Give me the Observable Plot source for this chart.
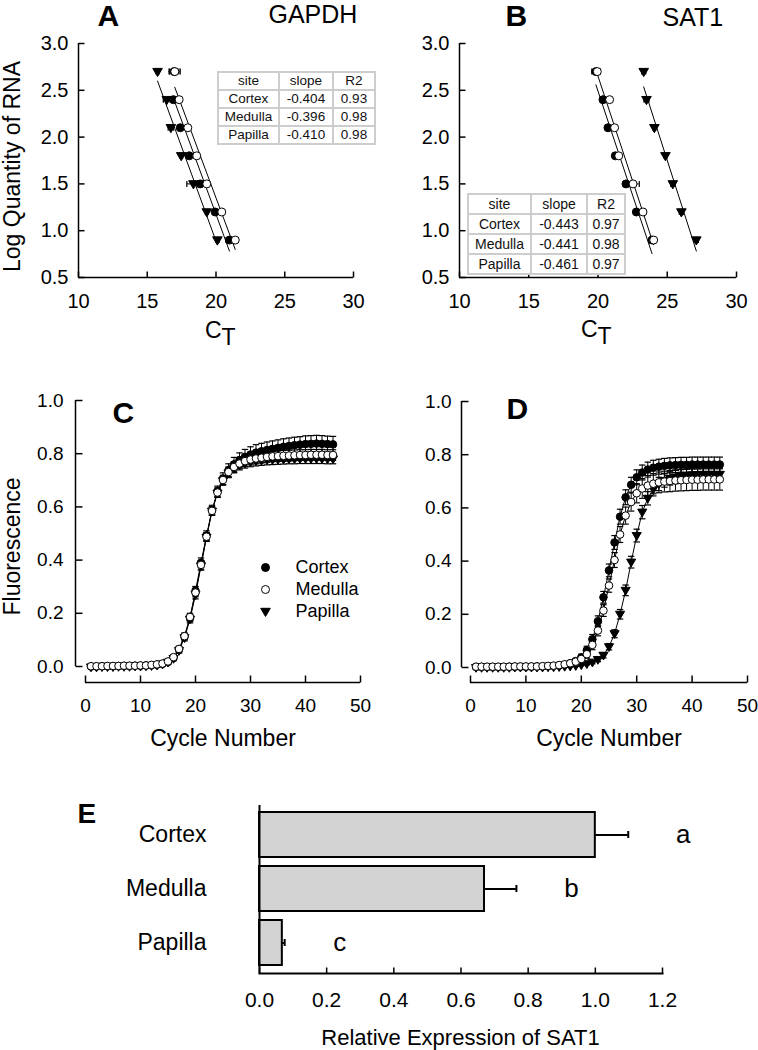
<!DOCTYPE html>
<html><head><meta charset="utf-8">
<script src="https://cdn.jsdelivr.net/npm/d3@7"></script>
<script src="https://cdn.jsdelivr.net/npm/@observablehq/plot@0.6"></script>
<style>
body{margin:0;background:#fff;}
#page{position:relative;width:758px;height:1050px;background:#fff;font-family:"Liberation Sans",Arial,sans-serif;overflow:hidden;}
#page svg{position:absolute;}
table.fit{position:absolute;border-collapse:collapse;background:#fff;color:#111;font-family:"Liberation Sans",Arial,sans-serif;}
table.fit td{border:2px solid #cdcdcd;text-align:center;padding:0;line-height:1;white-space:nowrap;}
</style></head><body><div id="page"></div>
<script>
// ---------------- data ----------------
const sites = ["Cortex", "Medulla", "Papilla"];

// Panels A/B: standard curves (log quantity of RNA vs CT)
const logQuantity = [2.7, 2.4, 2.1, 1.8, 1.5, 1.2, 0.9];
const gapdhCortex    = [16.95, 16.90, 17.40, 18.05, 18.85, 19.94, 20.98];
const gapdhMedulla   = [17.00, 17.32, 17.95, 18.60, 19.33, 20.42, 21.40];
const gapdhPapilla   = [15.75, 16.42, 16.72, 17.47, 18.36, 19.33, 20.10];
const gapdhCortexSE  = [0.35, 0.12, 0.10, 0.10, 0.15, 0.10, 0.25];
const gapdhMedullaSE = [0.40, 0.10, 0.10, 0.10, 0.10, 0.10, 0.15];
const gapdhPapillaSE = [0.10, 0.25, 0.20, 0.10, 0.48, 0.10, 0.12];

const sat1Cortex    = [19.85, 20.36, 20.72, 21.25, 22.02, 22.77, 23.90];
const sat1Medulla   = [19.95, 20.84, 21.20, 21.50, 22.53, 23.25, 24.02];
const sat1Papilla   = [23.30, 23.50, 24.07, 24.87, 25.40, 26.02, 27.10];
const sat1CortexSE  = [0.30, 0.10, 0.10, 0.10, 0.20, 0.10, 0.10];
const sat1MedullaSE = [0.20, 0.10, 0.10, 0.10, 0.45, 0.10, 0.10];
const sat1PapillaSE = [0.15, 0.18, 0.10, 0.10, 0.15, 0.15, 0.15];

const gapdhSlope = ["-0.404", "-0.396", "-0.410"];
const gapdhR2    = ["0.93", "0.98", "0.98"];
const sat1Slope  = ["-0.443", "-0.441", "-0.461"];
const sat1R2     = ["0.97", "0.98", "0.97"];

const ctTicks = [10, 15, 20, 25, 30];
const qTicks = [0.5, 1.0, 1.5, 2.0, 2.5, 3.0];

// Panels C/D: amplification curves, cycles 1..45
const cycles = d3.range(1, 46);
const gapdhAmpCortex = [0.000,0.000,0.001,0.001,0.001,0.002,0.002,0.002,0.003,0.003,
  0.004,0.005,0.007,0.010,0.017,0.032,0.064,0.112,0.182,0.285,
  0.390,0.492,0.588,0.658,0.706,0.738,0.760,0.776,0.788,0.797,
  0.804,0.809,0.814,0.818,0.822,0.826,0.829,0.832,0.834,0.836,
  0.837,0.838,0.837,0.836,0.835];
const gapdhAmpCortexSE = [0.003,0.003,0.003,0.003,0.003,0.003,0.003,0.003,0.003,0.003,
  0.003,0.003,0.004,0.005,0.006,0.008,0.010,0.012,0.014,0.016,
  0.018,0.018,0.018,0.020,0.022,0.024,0.026,0.027,0.028,0.029,
  0.030,0.030,0.030,0.030,0.030,0.030,0.030,0.030,0.030,0.031,
  0.031,0.031,0.031,0.030,0.030];
const gapdhAmpMedulla = [0.001,0.001,0.001,0.002,0.002,0.002,0.003,0.003,0.003,0.004,
  0.004,0.006,0.008,0.011,0.019,0.035,0.066,0.114,0.186,0.278,
  0.382,0.488,0.585,0.654,0.701,0.731,0.750,0.763,0.772,0.778,
  0.782,0.785,0.788,0.790,0.791,0.792,0.793,0.794,0.795,0.795,
  0.796,0.796,0.796,0.795,0.795];
const gapdhAmpMedullaSE = [0.003,0.003,0.003,0.003,0.003,0.003,0.003,0.003,0.003,0.003,
  0.003,0.003,0.004,0.005,0.006,0.008,0.010,0.012,0.014,0.016,
  0.016,0.016,0.016,0.018,0.018,0.019,0.020,0.020,0.020,0.020,
  0.020,0.020,0.020,0.020,0.020,0.020,0.020,0.020,0.020,0.020,
  0.020,0.020,0.020,0.020,0.020];
const gapdhAmpPapilla = [-0.002,-0.002,-0.001,-0.001,-0.001,0.000,0.000,0.000,0.001,0.001,
  0.002,0.003,0.005,0.009,0.016,0.030,0.060,0.108,0.178,0.270,
  0.378,0.486,0.584,0.652,0.698,0.727,0.745,0.757,0.764,0.769,
  0.772,0.774,0.776,0.777,0.778,0.779,0.780,0.780,0.781,0.781,
  0.781,0.781,0.781,0.780,0.780];
const gapdhAmpPapillaSE = [0.003,0.003,0.003,0.003,0.003,0.003,0.003,0.003,0.003,0.003,
  0.003,0.003,0.004,0.005,0.006,0.008,0.010,0.012,0.014,0.016,
  0.016,0.016,0.016,0.016,0.016,0.017,0.017,0.018,0.018,0.018,
  0.018,0.018,0.018,0.018,0.018,0.018,0.018,0.018,0.018,0.018,
  0.018,0.018,0.018,0.018,0.018];

const sat1AmpCortex = [0.002,0.002,0.002,0.002,0.002,0.002,0.003,0.003,0.003,0.003,
  0.003,0.004,0.004,0.005,0.006,0.008,0.011,0.016,0.024,0.038,
  0.065,0.106,0.174,0.264,0.365,0.470,0.567,0.640,0.687,0.715,
  0.733,0.744,0.751,0.755,0.758,0.760,0.761,0.762,0.762,0.763,
  0.763,0.763,0.763,0.763,0.763];
const sat1AmpCortexSE = [0.003,0.003,0.003,0.003,0.003,0.003,0.003,0.003,0.003,0.003,
  0.003,0.003,0.003,0.003,0.004,0.005,0.006,0.008,0.010,0.012,
  0.015,0.018,0.020,0.022,0.024,0.026,0.028,0.028,0.028,0.028,
  0.028,0.028,0.028,0.028,0.028,0.028,0.028,0.028,0.028,0.028,
  0.028,0.028,0.028,0.028,0.028];
const sat1AmpMedulla = [0.003,0.003,0.003,0.003,0.003,0.003,0.003,0.004,0.004,0.004,
  0.004,0.004,0.005,0.006,0.007,0.009,0.012,0.016,0.022,0.032,
  0.050,0.085,0.139,0.214,0.308,0.404,0.500,0.571,0.622,0.655,
  0.673,0.684,0.691,0.696,0.699,0.701,0.703,0.704,0.705,0.706,
  0.706,0.707,0.707,0.707,0.707];
const sat1AmpMedullaSE = [0.003,0.003,0.003,0.003,0.003,0.003,0.003,0.003,0.003,0.003,
  0.003,0.003,0.003,0.003,0.004,0.005,0.006,0.008,0.010,0.012,
  0.015,0.018,0.020,0.022,0.025,0.028,0.030,0.032,0.034,0.036,
  0.037,0.038,0.038,0.039,0.039,0.040,0.040,0.040,0.040,0.040,
  0.040,0.040,0.040,0.040,0.040];
const sat1AmpPapilla = [0.000,0.000,0.000,0.000,0.000,0.000,0.000,0.001,0.001,0.001,
  0.001,0.001,0.001,0.002,0.002,0.003,0.004,0.005,0.007,0.010,
  0.014,0.020,0.030,0.046,0.078,0.127,0.200,0.290,0.396,0.496,
  0.584,0.636,0.670,0.690,0.703,0.711,0.716,0.720,0.722,0.724,
  0.725,0.726,0.726,0.726,0.726];
const sat1AmpPapillaSE = [0.003,0.003,0.003,0.003,0.003,0.003,0.003,0.003,0.003,0.003,
  0.003,0.003,0.003,0.003,0.003,0.003,0.003,0.003,0.003,0.003,
  0.004,0.006,0.008,0.010,0.012,0.015,0.018,0.020,0.022,0.024,
  0.025,0.025,0.025,0.025,0.025,0.025,0.025,0.025,0.025,0.025,
  0.025,0.025,0.025,0.025,0.025];

const cycleTicks = [0, 10, 20, 30, 40, 50];
const fluorTicks = [0.0, 0.2, 0.4, 0.6, 0.8, 1.0];

// Panel E: relative expression of SAT1
const relExpression = [1.00, 0.67, 0.068];
const relExpressionSE = [0.098, 0.095, 0.007];
const sigLetters = ["a", "b", "c"];
const relTicks = [0.0, 0.2, 0.4, 0.6, 0.8, 1.0, 1.2];

// ---------------- helpers ----------------
const FONT = '"Liberation Sans", Arial, Helvetica, sans-serif';
const style = {fontFamily: FONT, background: "none", color: "black", overflow: "visible", maxWidth: "none"};
const rOf = size => Math.sqrt(size / Math.PI);
const triDown = {draw(ctx, size) {const r = rOf(size); ctx.moveTo(-1.2 * r, -0.8 * r); ctx.lineTo(1.2 * r, -0.8 * r); ctx.lineTo(0, 1.25 * r); ctx.closePath();}};
const vBar = {draw(ctx, size) {const r = rOf(size); ctx.moveTo(0, -r); ctx.lineTo(0, r);}};
const hBar = {draw(ctx, size) {const r = rOf(size); ctx.moveTo(-r, 0); ctx.lineTo(r, 0);}};
const tickUp = {draw(ctx, size) {const r = rOf(size); ctx.moveTo(0, 0); ctx.lineTo(0, -r);}};
const tickRight = {draw(ctx, size) {const r = rOf(size); ctx.moveTo(0, 0); ctx.lineTo(r, 0);}};
const markerStyle = {
  Cortex: {symbol: "circle", fill: "black", stroke: "black"},
  Medulla: {symbol: "circle", fill: "white", stroke: "black"},
  Papilla: {symbol: triDown, fill: "black", stroke: "black"}
};

function txt(cfg, s, px, py, o = {}) {
  return Plot.text([s], {text: d => d, frameAnchor: "top-left",
    dx: px - cfg.left - cfg.ml, dy: py - cfg.top - cfg.mt,
    fill: "black", lineAnchor: "bottom", textAnchor: "start", ...o});
}
function siteMarkers(rows, x, y, order, r) {
  return order.map(s => Plot.dot(rows, {filter: d => d.site === s, x, y, r, strokeWidth: 1, ...markerStyle[s]}));
}
function mount(cfg, svg) {
  svg.style.left = cfg.left + "px";
  svg.style.top = cfg.top + "px";
  document.getElementById("page").appendChild(svg);
}
function tableAt(left, top, colW, rowH, fontSize, slopes, r2) {
  const t = document.createElement("table");
  t.className = "fit";
  t.style.left = left + "px"; t.style.top = top + "px"; t.style.fontSize = fontSize + "px";
  const rows = [["site", "slope", "R2"], ...sites.map((s, i) => [s, slopes[i], r2[i]])];
  for (const r of rows) {
    const tr = document.createElement("tr");
    r.forEach((v, j) => {
      const td = document.createElement("td");
      td.textContent = v; td.style.width = colW[j] + "px"; td.style.height = rowH + "px";
      tr.appendChild(td);
    });
    t.appendChild(tr);
  }
  document.getElementById("page").appendChild(t);
}
const letterPos = {A: [97, 25], B: [505, 25], C: [112, 422], D: [506, 418], E: [77, 822]};

// ---------------- panels A & B ----------------
function stdRows(vals, ses) {
  return sites.flatMap((s, k) => logQuantity.map((q, i) => ({site: s, q, ct: vals[k][i], se: ses[k][i]})));
}
function standardPanel(cfg, rows, letter, gene, geneX, geneY, ctX, ctY, extra) {
  const x0 = ctTicks[0], y0 = qTicks[0];
  return Plot.plot({
    width: cfg.width, height: cfg.height,
    marginLeft: cfg.ml, marginRight: cfg.mr, marginTop: cfg.mt, marginBottom: cfg.mb,
    x: {domain: [x0, ctTicks[ctTicks.length - 1]], label: null},
    y: {domain: [y0, qTicks[qTicks.length - 1]], label: null},
    style,
    marks: [
      Plot.ruleX([x0], {strokeWidth: 1.5}),
      Plot.ruleY([y0], {strokeWidth: 1.5}),
      Plot.dot(ctTicks, {x: d => d, y: () => y0, symbol: tickUp, r: 6, stroke: "black", fill: "none", strokeWidth: 1.5}),
      Plot.dot(qTicks, {x: () => x0, y: d => d, symbol: tickRight, r: 6, stroke: "black", fill: "none", strokeWidth: 1.5}),
      Plot.axisX({ticks: ctTicks, tickSize: 0, tickPadding: 16, fontSize: 20, label: null}),
      Plot.axisY({ticks: qTicks, tickFormat: d3.format(".1f"), tickSize: 0, tickPadding: 10, fontSize: 20, label: null}),
      Plot.linearRegressionY(rows, {x: "ct", y: "q", z: "site", ci: 0, stroke: "black", strokeWidth: 1}),
      Plot.ruleY(rows, {y: "q", x1: d => d.ct - d.se, x2: d => d.ct + d.se, strokeWidth: 1}),
      Plot.dot(rows, {x: d => d.ct - d.se, y: "q", symbol: vBar, r: 3, stroke: "black", strokeWidth: 1.2}),
      Plot.dot(rows, {x: d => d.ct + d.se, y: "q", symbol: vBar, r: 3, stroke: "black", strokeWidth: 1.2}),
      ...siteMarkers(rows, "ct", "q", ["Papilla", "Cortex", "Medulla"], 4),
      txt(cfg, letter, letterPos[letter][0], letterPos[letter][1], {fontSize: 30, fontWeight: "bold"}),
      txt(cfg, gene, geneX, geneY, {fontSize: 25}),
      txt(cfg, "C", ctX, ctY, {fontSize: 23, textAnchor: "end"}),
      txt(cfg, "T", ctX, ctY + 7, {fontSize: 23, textAnchor: "start"}),
      ...extra
    ]
  });
}

const cfgA = {left: 0, top: 0, width: 379, height: 345, ml: 78, mr: 26, mt: 43, mb: 68};
const cfgB = {left: 380, top: 0, width: 378, height: 345, ml: 79, mr: 22, mt: 43, mb: 68};
const svgA = standardPanel(cfgA,
  stdRows([gapdhCortex, gapdhMedulla, gapdhPapilla], [gapdhCortexSE, gapdhMedullaSE, gapdhPapillaSE]),
  "A", "GAPDH", 268, 22, 221, 337,
  [txt(cfgA, "Log Quantity of RNA", 3, 166, {fontSize: 23, rotate: -90, lineAnchor: "top", textAnchor: "middle"})]);
mount(cfgA, svgA);
const svgB = standardPanel(cfgB,
  stdRows([sat1Cortex, sat1Medulla, sat1Papilla], [sat1CortexSE, sat1MedullaSE, sat1PapillaSE]),
  "B", "SAT1", 662, 25, 597, 336, []);
mount(cfgB, svgB);

// ---------------- panels C & D ----------------
function ampRows(vals, ses) {
  return sites.flatMap((s, k) => cycles.map((c, i) => ({site: s, cycle: c, f: vals[k][i], se: ses[k][i]})));
}
function ampPanel(cfg, rows, letter, axDx, axDy, yPad, extra) {
  const x0 = cycleTicks[0], y0 = fluorTicks[0];
  return Plot.plot({
    width: cfg.width, height: cfg.height,
    marginLeft: cfg.ml, marginRight: cfg.mr, marginTop: cfg.mt, marginBottom: cfg.mb,
    x: {domain: [x0, cycleTicks[cycleTicks.length - 1]], label: null},
    y: {domain: [y0, fluorTicks[fluorTicks.length - 1]], label: null},
    style,
    marks: [
      Plot.ruleX([x0], {dx: axDx, strokeWidth: 1.5}),
      Plot.ruleY([y0], {dy: axDy, strokeWidth: 1.5}),
      Plot.dot(cycleTicks, {x: d => d, y: () => y0, dy: axDy, symbol: tickUp, r: 7, stroke: "black", fill: "none", strokeWidth: 1.5}),
      Plot.dot(fluorTicks, {x: () => x0, y: d => d, dx: axDx, symbol: tickRight, r: 7, stroke: "black", fill: "none", strokeWidth: 1.5}),
      Plot.axisX({ticks: cycleTicks, dy: axDy, tickSize: 0, tickPadding: 16, fontSize: 19, label: null}),
      Plot.axisY({ticks: fluorTicks, tickFormat: d3.format(".1f"), dx: axDx, tickSize: 0, tickPadding: yPad, fontSize: 19, label: null}),
      Plot.line(rows, {x: "cycle", y: "f", z: "site", stroke: "black", strokeWidth: 1}),
      Plot.ruleX(rows, {x: "cycle", y1: d => d.f - d.se, y2: d => d.f + d.se, strokeWidth: 1}),
      Plot.dot(rows, {x: "cycle", y: d => d.f + d.se, symbol: hBar, r: 3.2, stroke: "black", strokeWidth: 1.2}),
      Plot.dot(rows, {x: "cycle", y: d => d.f - d.se, symbol: hBar, r: 3.2, stroke: "black", strokeWidth: 1.2}),
      ...siteMarkers(rows, "cycle", "f", ["Cortex", "Papilla", "Medulla"], 3.8),
      txt(cfg, letter, letterPos[letter][0], letterPos[letter][1], {fontSize: 30, fontWeight: "bold"}),
      txt(cfg, "Cycle Number", cfg.left + cfg.ml + (cfg.width - cfg.ml - cfg.mr) / 2, 745, {fontSize: 23, textAnchor: "middle"}),
      ...extra
    ]
  });
}
const cfgC = {left: 0, top: 340, width: 379, height: 440, ml: 85, mr: 19, mt: 60, mb: 114};
const cfgD = {left: 380, top: 340, width: 378, height: 440, ml: 90, mr: 11, mt: 61, mb: 113};
const legendMarks = sites.flatMap((s, i) => [
  Plot.dot([s], {frameAnchor: "top-left", dx: 265 - cfgC.ml, dy: 567 + 22 * i - cfgC.top - cfgC.mt, r: 4, strokeWidth: 1, ...markerStyle[s]}),
  txt(cfgC, s, 295, 567 + 22 * i, {fontSize: 18, lineAnchor: "middle"})
]);
const svgC = ampPanel(cfgC,
  ampRows([gapdhAmpCortex, gapdhAmpMedulla, gapdhAmpPapilla], [gapdhAmpCortexSE, gapdhAmpMedullaSE, gapdhAmpPapillaSE]),
  "C", -10, 16, 12,
  [...legendMarks, txt(cfgC, "Fluorescence", 3, 546, {fontSize: 23, rotate: -90, lineAnchor: "top", textAnchor: "middle"})]);
mount(cfgC, svgC);
const svgD = ampPanel(cfgD,
  ampRows([sat1AmpCortex, sat1AmpMedulla, sat1AmpPapilla], [sat1AmpCortexSE, sat1AmpMedullaSE, sat1AmpPapillaSE]),
  "D", -9, 15, 10, []);
mount(cfgD, svgD);

// ---------------- panel E ----------------
const cfgE = {left: 0, top: 780, width: 758, height: 270, ml: 259, mr: 96, mt: 25, mb: 77};
const eRows = sites.map((s, i) => ({site: s, value: relExpression[i], se: relExpressionSE[i], letter: sigLetters[i]}));
const svgE = Plot.plot({
  width: cfgE.width, height: cfgE.height,
  marginLeft: cfgE.ml, marginRight: cfgE.mr, marginTop: cfgE.mt, marginBottom: cfgE.mb,
  x: {domain: [relTicks[0], relTicks[relTicks.length - 1]], label: null},
  y: {domain: sites, paddingInner: 0.16, paddingOuter: 0.12, label: null},
  style,
  marks: [
    Plot.barX(eRows, {x: "value", y: "site", fill: "#d3d3d3", stroke: "black", strokeWidth: 2}),
    Plot.ruleY(eRows, {y: "site", x1: "value", x2: d => d.value + d.se, strokeWidth: 2}),
    Plot.tickX(eRows, {x: d => d.value + d.se, y: "site", insetTop: 19, insetBottom: 19, strokeWidth: 2}),
    Plot.text(eRows, {x: d => d.value + d.se, y: "site", text: "letter", dx: 55, fontSize: 26, lineAnchor: "middle", fill: "black"}),
    Plot.ruleX([relTicks[0]], {strokeWidth: 2}),
    Plot.frame({anchor: "bottom", strokeWidth: 2}),
    Plot.dot(relTicks, {x: d => d, frameAnchor: "bottom", symbol: tickUp, r: 6, stroke: "black", fill: "none", strokeWidth: 1.5}),
    Plot.axisX({ticks: relTicks, tickFormat: d3.format(".1f"), tickSize: 0, tickPadding: 19, fontSize: 21, label: null}),
    Plot.axisY({tickSize: 0, tickPadding: 53, fontSize: 23, label: null}),
    txt(cfgE, "E", letterPos.E[0], letterPos.E[1], {fontSize: 28, fontWeight: "bold"}),
    txt(cfgE, "Relative Expression of SAT1", 460, 1044, {fontSize: 22, textAnchor: "middle"})
  ]
});
mount(cfgE, svgE);

// ---------------- fit tables ----------------
tableAt(217, 71, [59, 52, 40], 16, 13.5, gapdhSlope, gapdhR2);
tableAt(467, 193, [61, 54, 36], 18, 14, sat1Slope, sat1R2);
</script></body></html>
